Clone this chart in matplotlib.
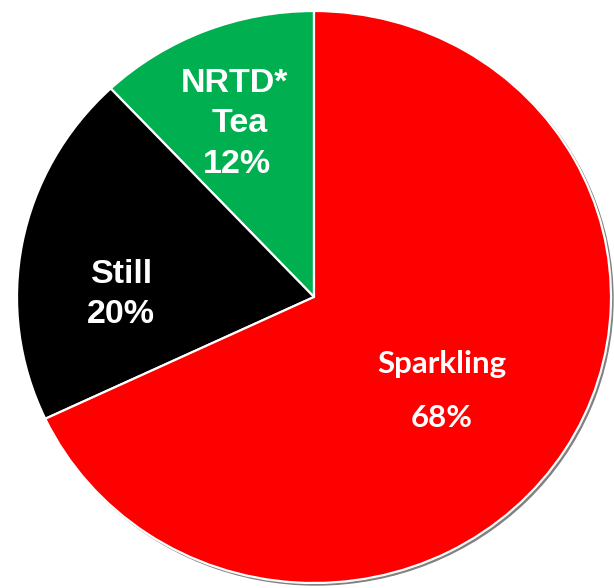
import matplotlib.pyplot as plt
from matplotlib.patches import Ellipse

categories = ['NRTD*\nTea', 'Still', 'Sparkling']
shares = [12, 20, 68]
colors = ['#00B050', '#000000', '#FF0000']

W, H = 614, 588
cx, cy = 314, 297      # pie centre in pixels (from top-left)
rx, ry = 297, 286      # the pie is drawn slightly wider than tall

fig = plt.figure(figsize=(W / 100, H / 100), dpi=100)
ax = fig.add_axes([0, 0, 1, 1])


def px(x, y):
    # pixel position -> data units (pie has radius 1 at the origin)
    return (x - cx) / rx, (cy - y) / ry


# soft shadow on the right / bottom edge
ax.add_patch(Ellipse(px(cx + 2, cy + 2), 2, 2, color='#808080', zorder=0))

ax.pie(shares, colors=colors, startangle=90, counterclock=True,
       radius=1, frame=True,
       wedgeprops=dict(edgecolor='white', linewidth=1.6))

x0, y1 = px(0, 0)
x1, y0 = px(W, H)
ax.set_xlim(x0, x1)
ax.set_ylim(y0, y1)
ax.set_aspect('auto')
ax.axis('off')

# label line positions (x centre, baseline y in pixels from top)
label_pos = [[(234, 92), (240, 132), (237, 173)],
             [(122, 283), (121, 323)],
             [(442, 373), (442, 427)]]
fonts = [dict(family='Liberation Sans', weight='bold', size=24.5),
         dict(family='Liberation Sans', weight='bold', size=24.5),
         dict(family='Lato', weight='bold', size=22.5)]

for cat, val, pos, f in zip(categories, shares, label_pos, fonts):
    lines = cat.split('\n') + [f'{val}%']
    for line, (x, y) in zip(lines, pos):
        ax.text(*px(x, y), line, color='white', ha='center', va='baseline', **f)

fig.savefig('out.png', dpi=100)
